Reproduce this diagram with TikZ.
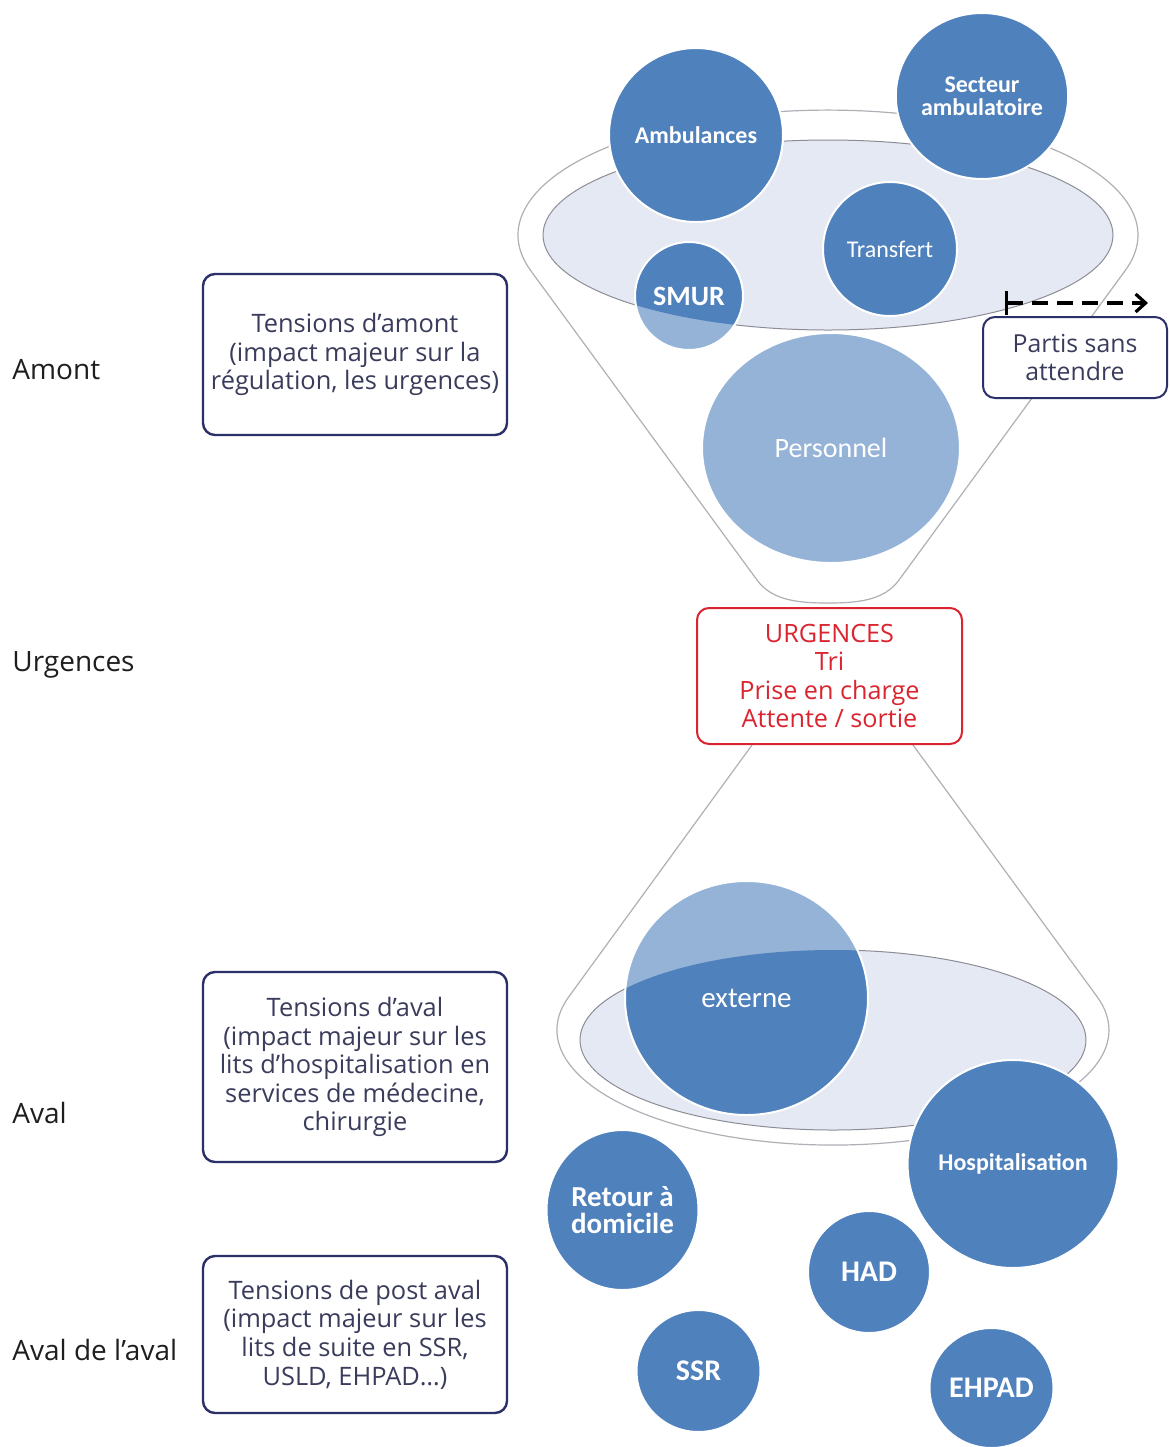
\documentclass[tikz,border=0pt]{standalone}
\usepackage{fontspec}
\setmainfont{Open Sans}
\newfontfamily\circfont{Carlito}
\usetikzlibrary{shapes.geometric,arrows.meta}
\definecolor{cdark}{RGB}{79,129,189}
\definecolor{clight}{RGB}{149,179,215}
\definecolor{cbowl}{RGB}{229,233,243}
\definecolor{cfunnel}{RGB}{175,175,182}
\definecolor{cbowledge}{RGB}{140,140,150}
\definecolor{cnavy}{RGB}{43,48,105}
\definecolor{cboxtext}{RGB}{58,60,92}
\definecolor{cred}{RGB}{218,37,48}
\definecolor{clabel}{RGB}{30,30,30}
\newcommand\cfnt[2]{\circfont\fontsize{#1}{#2}\selectfont}
\begin{document}
\begin{tikzpicture}[x=0.5pt,y=-0.5pt,
  funnel/.style={draw=cfunnel, line width=0.6pt},
  bowl/.style={fill=cbowl, draw=cbowledge, line width=0.5pt},
  bubble/.style={ellipse, draw=white, line width=1pt, inner sep=0pt, text=white, align=center},
  darkb/.style={bubble, fill=cdark},
  lightb/.style={bubble, fill=clight},
  tbox/.style={draw=cnavy, line width=1.2pt, rounded corners=6pt, fill=white, text=cboxtext, align=center, font=\fontsize{12.7}{14.3}\selectfont, inner sep=0pt},
  side/.style={anchor=base west, text=clabel, font=\fontsize{14}{17}\selectfont, inner sep=0pt},
]
\useasboundingbox (0,0) rectangle (1169,1447);

% ---------- upper funnel ----------
\draw[funnel] (1125.3,270.4) arc[start angle=16.4, end angle=-196.4, x radius=297.3/0.959, y radius=125]
  -- (757,580) .. controls (772,601) and (800,603) .. (828,603)
  .. controls (856,603) and (884,601) .. (899,580) -- cycle;
\path[bowl] (828,235) ellipse[x radius=285, y radius=95];

% ---------- lower funnel ----------
\draw[funnel] (752,745) -- (568.9,996.6) arc[start angle=196.9, end angle=-16.9, x radius=276, y radius=115] -- (913,745);
\path[bowl] (833,1040) ellipse[x radius=253, y radius=90];

% ---------- two-tone bubbles ----------
\fill[clight] (689,296) ellipse[x radius=54, y radius=54];
\begin{scope}
  \clip (828,235) ellipse[x radius=285, y radius=95];
  \fill[cdark] (689,296) ellipse[x radius=54, y radius=54];
\end{scope}
\node[bubble, minimum width=54pt, minimum height=54pt, font=\cfnt{14}{16}\bfseries] (smur) at (689,296) {SMUR};

\fill[clight] (746.5,998) ellipse[x radius=121.5, y radius=117];
\begin{scope}
  \clip (833,1040) ellipse[x radius=253, y radius=90];
  \fill[cdark] (746.5,998) ellipse[x radius=121.5, y radius=117];
\end{scope}
\node[bubble, minimum width=121.5pt, minimum height=117pt, font=\cfnt{14.5}{17}] (ext) at (746.5,998) {externe};

\node[lightb, minimum width=129pt, minimum height=115pt, font=\cfnt{14}{16}] (pers) at (831,448) {Personnel};

% ---------- dark bubbles ----------
\node[darkb, minimum width=87pt, minimum height=87pt, font=\cfnt{12}{14}\bfseries] (amb) at (696,135) {Ambulances};
\node[darkb, minimum width=83pt, minimum height=83pt, font=\cfnt{12}{11.5}\bfseries] (sect) at (982,96) {Secteur\\ambulatoire};
\node[darkb, minimum width=67pt, minimum height=67pt, font=\cfnt{12}{14}] (transf) at (890,249) {Transfert};
\node[darkb, minimum width=105pt, minimum height=104pt, font=\cfnt{12}{14}\bfseries] (hosp) at (1013,1164) {Hospitalisation};
\node[darkb, minimum width=76pt, minimum height=80pt, font=\cfnt{14.5}{13.5}\bfseries] (ret) at (622.5,1210) {Retour à\\domicile};
\node[darkb, minimum width=61pt, minimum height=61pt, font=\cfnt{15}{17}\bfseries] (had) at (869,1272) {HAD};
\node[darkb, minimum width=62pt, minimum height=61pt, font=\cfnt{15}{17}\bfseries] (ssr) at (698.5,1371) {SSR};
\node[darkb, minimum width=62pt, minimum height=60pt, font=\cfnt{15}{17}\bfseries] (ehpad) at (991.5,1388) {EHPAD};

% ---------- boxes ----------
\node[tbox, minimum width=152pt, minimum height=80.5pt] (amontbox) at (355,354.5)
  {Tensions d’amont\\(impact majeur sur la\\régulation, les urgences)};
\node[tbox, minimum width=152pt, minimum height=95pt] (avalbox) at (355,1067)
  {Tensions d’aval\\(impact majeur sur les\\lits d’hospitalisation en\\services de médecine,\\chirurgie};
\node[tbox, minimum width=152pt, minimum height=78.5pt] (postbox) at (355,1334.5)
  {Tensions de post aval\\(impact majeur sur les\\lits de suite en SSR,\\USLD, EHPAD…)};
\node[tbox, line width=1pt, minimum width=92pt, minimum height=40.5pt, font=\fontsize{12.4}{14.3}\selectfont] (partis) at (1075,357.5)
  {Partis sans\\attendre};
\node[tbox, draw=cred, text=cred, line width=1pt, minimum width=132.5pt, minimum height=68pt, font=\fontsize{12.6}{14.3}\selectfont] (urg) at (829.5,676)
  {URGENCES\\Tri\\Prise en charge\\Attente / sortie};

% ---------- arrow ----------
\coordinate (psaStart) at (1005,303);
\coordinate (psaEnd) at (1148,303);
\draw[line width=1.6pt, dash pattern=on 8pt off 4.5pt, {Bar[width=12pt]}-{Straight Barb[length=5pt,width=9pt]}] (psaStart) -- (psaEnd);

% ---------- side labels ----------
\node[side] (lamont) at (12,379) {Amont};
\node[side] (lurg) at (12,671) {Urgences};
\node[side] (laval) at (12,1123) {Aval};
\node[side] (lavalaval) at (12,1360) {Aval de l’aval};
\end{tikzpicture}
\end{document}
